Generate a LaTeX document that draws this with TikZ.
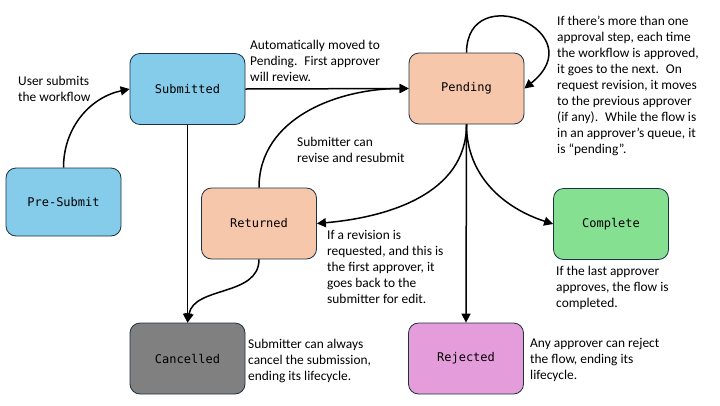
\documentclass[tikz,border=0pt]{standalone}
\usepackage{fontspec}
\setmainfont{Carlito}
\newfontfamily\monof{DejaVu Sans Mono}
\usetikzlibrary{arrows.meta}
\definecolor{cblue}{RGB}{133,204,234}
\definecolor{cpeach}{RGB}{247,199,172}
\definecolor{cgreen}{RGB}{134,224,145}
\definecolor{cgray}{RGB}{128,128,128}
\definecolor{cpink}{RGB}{228,157,218}
\definecolor{cborder}{RGB}{27,50,66}
\begin{document}
\begin{tikzpicture}[x=1pt,y=-1pt,
  state/.style={draw=cborder, line width=0.8pt, rounded corners=10pt,
    minimum width=115pt, minimum height=71pt, inner sep=0pt,
    font=\monof\fontsize{12}{14}\selectfont},
  note/.style={align=left, anchor=north west, inner sep=0pt,
    font=\fontsize{13.4}{16}\selectfont},
  conn/.style={line width=1.5pt, -{Triangle[length=9pt,width=9pt]}}
]
\useasboundingbox (0,0) rectangle (720,405);

\node[state, fill=cblue, minimum height=68pt] (pre) at (63.5,202) {Pre-Submit};
\node[state, fill=cblue] (sub) at (187.5,89) {Submitted};
\node[state, fill=cpeach] (pen) at (466.5,88.5) {Pending};
\node[state, fill=cpeach] (ret) at (259,223.5) {Returned};
\node[state, fill=cgreen] (com) at (611,224) {Complete};
\node[state, fill=cgray] (can) at (187.5,358.5) {Cancelled};
\node[state, fill=cpink] (rej) at (466,358.5) {Rejected};

\node[note] (n1) at (18,75.5) {User submits\\the workflow};
\node[note] (n2) at (250,39.5) {Automatically moved to\\Pending.~ First approver\\will review.};
\node[note] (n3) at (557,15.5) {If there’s more than one\\approval step, each time\\the workflow is approved,\\it goes to the next.~ On\\request revision, it moves\\to the previous approver\\(if any).~ While the flow is\\in an approver’s queue, it\\is “pending”.};
\node[note] (n4) at (297,136.5) {Submitter can\\revise and resubmit};
\node[note] (n5) at (327,230.5) {If a revision is\\requested, and this is\\the first approver, it\\goes back to the\\submitter for edit.};
\node[note] (n6) at (556,265.5) {If the last approver\\approves, the flow is\\completed.};
\node[note] (n7) at (248,338.5) {Submitter can always\\cancel the submission,\\ending its lifecycle.};
\node[note] (n8) at (530,338.5) {Any approver can reject\\the flow, ending its\\lifecycle.};

\draw[conn] (pre.north) to[out=90,in=192] (sub.west);
\draw[conn] (sub.east) -- (pen.west);
\draw[conn] (ret.north) to[out=90,in=180] (pen.west);
\draw[conn] (pen.north) .. controls (467,-22) and (595,32) .. (pen.east);
\draw[conn] (pen.south) to[out=270,in=5] (ret.east);
\draw[conn] (pen.south) -- (rej.north);
\draw[conn] (pen.south) to[out=270,in=162] (com.west);
\draw[conn] (sub.south) -- (can.north);
\draw[conn] (ret.south) to[out=270,in=80] (can.north);
\end{tikzpicture}
\end{document}
